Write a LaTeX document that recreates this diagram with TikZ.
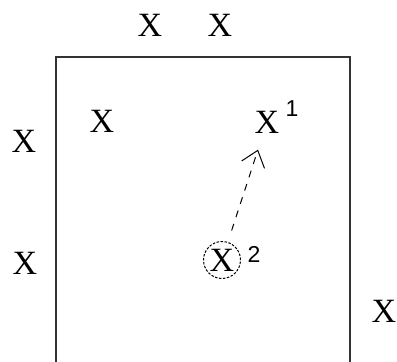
\documentclass[tikz,border=0pt]{standalone}
\usepackage{fontspec}
\setmainfont{Liberation Serif}
\newfontfamily\supfont{Liberation Sans}
\usetikzlibrary{arrows.meta}
\tikzset{
    mark x/.style={inner sep=3pt, font=\fontsize{34}{38}\selectfont},
    mark sup/.style={inner sep=1pt, font=\supfont\fontsize{23}{26}\selectfont},
}
\begin{document}
\begin{tikzpicture}[x=1pt, y=-1pt]
        \useasboundingbox (0, 0) rectangle (397, 362);
        % Draw the box, open at the bottom
        \draw[line width=1.6pt, black!80] (56, 362) -- (56, 57) -- (350, 57) -- (350, 362);
        % Marks outside the box
        \node[mark x] (top1) at (150, 25) {X};
        \node[mark x] (top2) at (220, 25) {X};
        \node[mark x] (left1) at (24, 141) {X};
        \node[mark x] (left2) at (25, 263) {X};
        \node[mark x] (right1) at (384, 311) {X};
        % Marks inside the box
        \node[mark x] (inner1) at (102, 121) {X};
        \node[mark x] (x1) at (267, 122) {X};
        \node[mark x, circle, draw, dashed, dash pattern=on 2.5pt off 1.5pt, line width=1pt,
              minimum size=37pt, inner sep=0pt] (x2) at (222, 260) {X};
        % Label the marks
        \node[mark sup] (sup1) at (292, 109) {1};
        \node[mark sup] (sup2) at (254, 254) {2};
        % Move from 2 to 1
        \draw[line width=1pt, dash pattern=on 7pt off 7pt,
              -{Straight Barb[length=15pt, width=24pt, line width=1pt]},
              shorten <=12pt, shorten >=14pt] (x2) -- (x1);
    \end{tikzpicture}
\end{document}
